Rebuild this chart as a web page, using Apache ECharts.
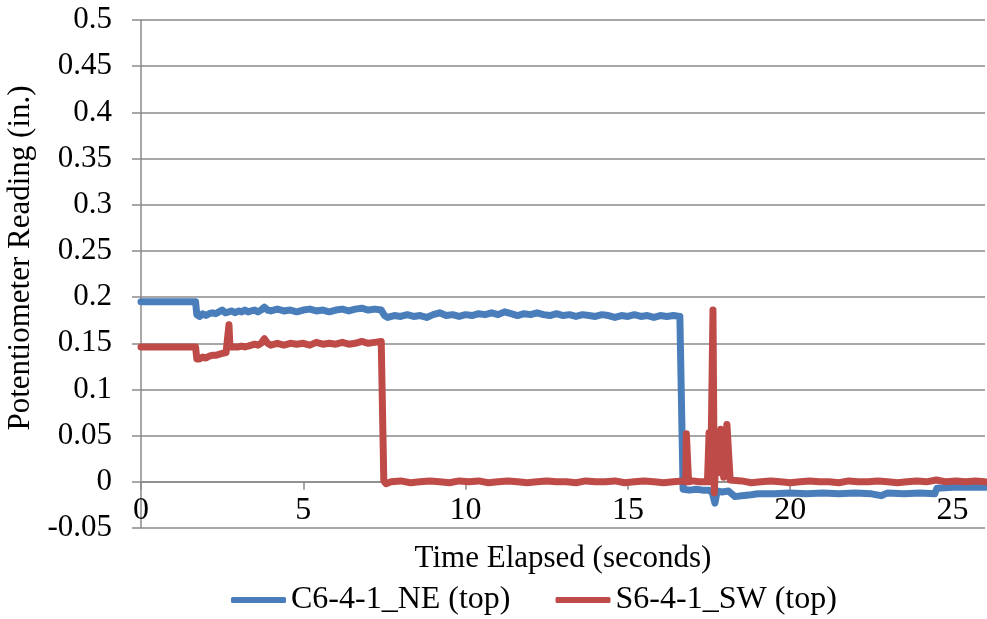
<!DOCTYPE html>
<html>
<head>
<meta charset="utf-8">
<script src="https://cdn.jsdelivr.net/npm/echarts@6/dist/echarts.min.js"></script>
<style>
html,body{margin:0;padding:0;background:#fff;}
#chart{width:987px;height:619px;}
</style>
</head>
<body>
<div id="chart"></div>
<script>
// ---- Data ----
const seriesNames = ['C6-4-1_NE (top)', 'S6-4-1_SW (top)'];
const xTicks = [0, 5, 10, 15, 20, 25];
const yTicks = [-0.05, 0, 0.05, 0.1, 0.15, 0.2, 0.25, 0.3, 0.35, 0.4, 0.45, 0.5];

const blueT = [0, 0.5, 1.0, 1.5, 1.68, 1.72, 1.8, 1.9, 2.0, 2.1, 2.2, 2.3, 2.4, 2.5, 2.6, 2.7, 2.8, 2.9, 3.0, 3.1, 3.2, 3.3, 3.4, 3.5, 3.6, 3.7, 3.8, 3.9, 4.0, 4.2, 4.4, 4.6, 4.8, 5.0, 5.2, 5.4, 5.6, 5.8, 6.0, 6.2, 6.4, 6.6, 6.8, 7.0, 7.2, 7.4, 7.5, 7.6, 7.8, 8.0, 8.2, 8.4, 8.6, 8.8, 9.0, 9.2, 9.4, 9.6, 9.8, 10.0, 10.2, 10.4, 10.6, 10.8, 11.0, 11.2, 11.4, 11.6, 11.8, 12.0, 12.2, 12.4, 12.6, 12.8, 13.0, 13.2, 13.4, 13.6, 13.8, 14.0, 14.2, 14.4, 14.6, 14.8, 15.0, 15.2, 15.4, 15.6, 15.8, 16.0, 16.2, 16.4, 16.6, 16.66, 16.7, 16.9, 17.1, 17.3, 17.5, 17.6, 17.68, 17.75, 17.9, 18.1, 18.2, 18.3, 18.5, 18.8, 19.0, 19.5, 20.0, 20.5, 21.0, 21.5, 22.0, 22.5, 22.8, 23.0, 23.5, 24.0, 24.45, 24.52, 25.0, 25.5, 26.0];
const blueV = [0.195, 0.195, 0.195, 0.195, 0.195, 0.181, 0.179, 0.182, 0.180, 0.182, 0.183, 0.182, 0.184, 0.186, 0.183, 0.184, 0.185, 0.183, 0.185, 0.184, 0.186, 0.184, 0.185, 0.186, 0.184, 0.186, 0.189, 0.186, 0.185, 0.187, 0.185, 0.186, 0.184, 0.186, 0.187, 0.185, 0.186, 0.184, 0.186, 0.187, 0.185, 0.187, 0.188, 0.186, 0.187, 0.186, 0.180, 0.178, 0.180, 0.179, 0.181, 0.179, 0.180, 0.178, 0.181, 0.183, 0.180, 0.181, 0.179, 0.181, 0.180, 0.182, 0.181, 0.183, 0.181, 0.184, 0.182, 0.180, 0.182, 0.181, 0.183, 0.181, 0.180, 0.182, 0.180, 0.181, 0.179, 0.181, 0.180, 0.179, 0.181, 0.180, 0.178, 0.180, 0.179, 0.181, 0.179, 0.180, 0.178, 0.180, 0.179, 0.180, 0.179, 0.178, -0.008, -0.009, -0.008, -0.009, -0.009, -0.012, -0.023, -0.010, -0.011, -0.010, -0.013, -0.016, -0.015, -0.014, -0.013, -0.013, -0.012, -0.013, -0.012, -0.013, -0.012, -0.013, -0.015, -0.012, -0.013, -0.012, -0.013, -0.007, -0.006, -0.006, -0.006];

const redT = [0, 0.5, 1.0, 1.5, 1.68, 1.72, 1.8, 1.9, 2.0, 2.1, 2.2, 2.3, 2.4, 2.5, 2.62, 2.68, 2.71, 2.74, 2.8, 2.9, 3.0, 3.1, 3.2, 3.3, 3.4, 3.5, 3.6, 3.7, 3.8, 3.9, 4.0, 4.2, 4.4, 4.6, 4.8, 5.0, 5.2, 5.4, 5.6, 5.8, 6.0, 6.2, 6.4, 6.6, 6.8, 7.0, 7.2, 7.4, 7.45, 7.48, 7.55, 7.7, 8.0, 8.3, 8.6, 8.9, 9.2, 9.5, 9.8, 10.1, 10.4, 10.7, 11.0, 11.3, 11.6, 11.9, 12.2, 12.5, 12.8, 13.1, 13.4, 13.7, 14.0, 14.3, 14.6, 14.9, 15.2, 15.5, 15.8, 16.1, 16.4, 16.7, 16.78, 16.8, 16.84, 16.87, 17.0, 17.2, 17.45, 17.5, 17.55, 17.62, 17.66, 17.72, 17.76, 17.8, 17.86, 17.9, 17.95, 18.05, 18.1, 18.15, 18.2, 18.5, 18.8, 19.1, 19.4, 19.7, 20.0, 20.3, 20.6, 20.9, 21.2, 21.5, 21.8, 22.1, 22.4, 22.7, 23.0, 23.3, 23.6, 23.9, 24.2, 24.5, 24.8, 25.1, 25.4, 25.7, 26.0];
const redV = [0.146, 0.146, 0.146, 0.146, 0.146, 0.133, 0.133, 0.135, 0.134, 0.136, 0.137, 0.137, 0.138, 0.139, 0.140, 0.141, 0.170, 0.146, 0.145, 0.146, 0.146, 0.147, 0.146, 0.147, 0.148, 0.149, 0.148, 0.150, 0.155, 0.150, 0.148, 0.150, 0.148, 0.150, 0.149, 0.150, 0.148, 0.151, 0.149, 0.150, 0.149, 0.151, 0.149, 0.150, 0.152, 0.150, 0.151, 0.152, 0.150, 0.001, -0.002, 0.000, 0.001, -0.001, 0.000, 0.001, 0.000, -0.001, 0.001, 0.000, 0.001, -0.001, 0.000, 0.001, 0.000, -0.001, 0.000, 0.001, 0.000, 0.000, -0.001, 0.001, 0.000, 0.000, 0.001, -0.001, 0.000, 0.001, 0.000, -0.001, 0.000, 0.001, 0.000, 0.052, 0.052, 0.000, 0.001, 0.000, 0.000, 0.053, 0.000, 0.186, -0.012, 0.035, 0.042, 0.010, 0.057, 0.058, 0.005, 0.062, 0.060, 0.002, 0.000, 0.001, -0.001, 0.000, 0.001, 0.000, -0.001, 0.000, 0.001, 0.000, 0.000, -0.001, 0.001, 0.000, 0.000, 0.001, 0.000, -0.001, 0.000, 0.001, 0.000, 0.002, 0.000, 0.001, 0.000, 0.001, 0.000];

const blueData = blueT.map((t, i) => [t, blueV[i]]);
const redData = redT.map((t, i) => [t, redV[i]]);

const FONT = 'Liberation Serif';
const GRID_COLOR = '#8a8a8a';
const GRID_TOP = 20, GRID_BOTTOM = 91, H = 619;
// x axis sits at y = 0: one y-step (0.05 of the 0.55 range) above the bottom edge
const plotH = H - GRID_TOP - GRID_BOTTOM;
const xAxisOffset = -plotH * 0.05 / 0.55;

const chart = echarts.init(document.getElementById('chart'), null, {renderer: 'canvas'});
chart.setOption({
  animation: false,
  backgroundColor: '#ffffff',
  grid: {left: 141, right: 2, top: GRID_TOP, bottom: GRID_BOTTOM, containLabel: false, outerBoundsMode: 'none'},
  legend: {
    top: 579,
    left: 226,
    itemWidth: 55,
    itemHeight: 6,
    itemGap: 45,
    icon: 'roundRect',
    textStyle: {fontFamily: FONT, fontSize: 32, color: '#000'},
    data: seriesNames
  },
  xAxis: {
    type: 'value',
    min: 0,
    max: 26,
    interval: 5,
    position: 'bottom',
    offset: xAxisOffset,
    name: 'Time Elapsed (seconds)',
    nameLocation: 'middle',
    nameGap: 62,
    nameTextStyle: {fontFamily: FONT, fontSize: 31, color: '#000'},
    axisLine: {show: true, onZero: false, lineStyle: {color: GRID_COLOR, width: 1.5}},
    axisTick: {show: true, length: 8, lineStyle: {color: GRID_COLOR, width: 1.5}},
    axisLabel: {
      fontFamily: FONT, fontSize: 32, color: '#000', margin: 13,
      formatter: v => (xTicks.indexOf(v) >= 0 ? String(v) : '')
    },
    splitLine: {show: false}
  },
  yAxis: {
    type: 'value',
    min: -0.05,
    max: 0.5,
    interval: 0.05,
    name: 'Potentiometer Reading (in.)',
    nameLocation: 'middle',
    nameGap: 96,
    nameRotate: 90,
    nameTextStyle: {fontFamily: FONT, fontSize: 31, color: '#000', padding: [0, 0, 0, 32]},
    axisLine: {show: true, onZero: false, lineStyle: {color: GRID_COLOR, width: 1.5}},
    axisTick: {show: true, length: 9, lineStyle: {color: GRID_COLOR, width: 1.5}},
    axisLabel: {
      fontFamily: FONT, fontSize: 31, color: '#000', margin: 29,
      formatter: v => {
        const r = Math.round(v * 100) / 100;
        const found = yTicks.find(t => Math.abs(t - r) < 1e-9);
        return found === undefined ? '' : String(found);
      }
    },
    splitLine: {show: true, lineStyle: {color: GRID_COLOR, width: 1.5}}
  },
  series: [
    {
      name: seriesNames[0],
      type: 'line',
      data: blueData,
      showSymbol: false,
      symbol: 'none',
      color: '#4a7ebb',
      lineStyle: {width: 7, color: '#4a7ebb', join: 'round', cap: 'round'},
      z: 2
    },
    {
      name: seriesNames[1],
      type: 'line',
      data: redData,
      showSymbol: false,
      symbol: 'none',
      color: '#be4b48',
      lineStyle: {width: 7, color: '#be4b48', join: 'round', cap: 'round'},
      z: 3
    }
  ]
});
</script>
</body>
</html>
